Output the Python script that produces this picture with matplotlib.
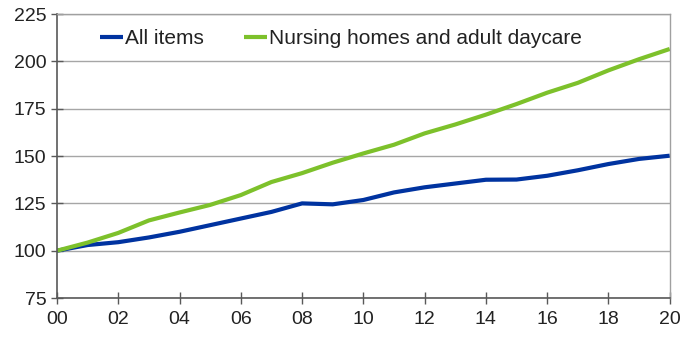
import matplotlib.pyplot as plt

plt.rcParams['font.family'] = ['Liberation Sans', 'DejaVu Sans']

years = list(range(0, 21))
all_items = [100, 103, 104.5, 107, 110, 113.5, 117, 120.5, 125, 124.5, 126.8,
             130.8, 133.5, 135.5, 137.5, 137.6, 139.6, 142.5, 145.8, 148.5, 150.2]
nursing = [100, 104.3, 109.4, 116, 120.2, 124.2, 129.4, 136.3, 141, 146.5, 151.4,
           156, 162, 166.7, 171.9, 177.5, 183.5, 188.7, 195.3, 201.2, 206.6]
xtick_labels = ['00', '02', '04', '06', '08', '10', '12', '14', '16', '18', '20']

fig = plt.figure(figsize=(6.82, 3.37), dpi=100)
ax = fig.add_axes([0.0836, 0.1157, 0.8984, 0.8423])

ax.plot(years, all_items, color='#0033a0', lw=3, label='All items', solid_capstyle='butt')
ax.plot(years, nursing, color='#7dc12b', lw=3, label='Nursing homes and adult daycare',
        solid_capstyle='butt')

ax.set_xlim(0, 20)
ax.set_ylim(75, 225)
ax.set_xticks(range(0, 21, 2))
ax.set_xticklabels(xtick_labels)
ax.set_yticks(range(75, 226, 25))

ax.grid(axis='y', color='#a6a6a6', lw=1)
ax.set_axisbelow(True)

for side in ['left', 'bottom']:
    ax.spines[side].set_color('#595959')
    ax.spines[side].set_linewidth(1.2)
for side in ['top', 'right']:
    ax.spines[side].set_color('#a0a0a0')
    ax.spines[side].set_linewidth(1)

ax.tick_params(axis='both', direction='inout', length=9, width=1, color='#595959',
               labelsize=14, labelcolor='#222222')
ax.tick_params(axis='x', pad=5)
ax.tick_params(axis='y', pad=3)

leg = ax.legend(loc='upper left', bbox_to_anchor=(0.05, 0.99), ncol=2, frameon=False,
                fontsize=15, handlelength=1.1, handletextpad=0.1, columnspacing=1.9,
                borderaxespad=0.2)
for t in leg.get_texts():
    t.set_color('#222222')

fig.savefig('out.png', dpi=100)
